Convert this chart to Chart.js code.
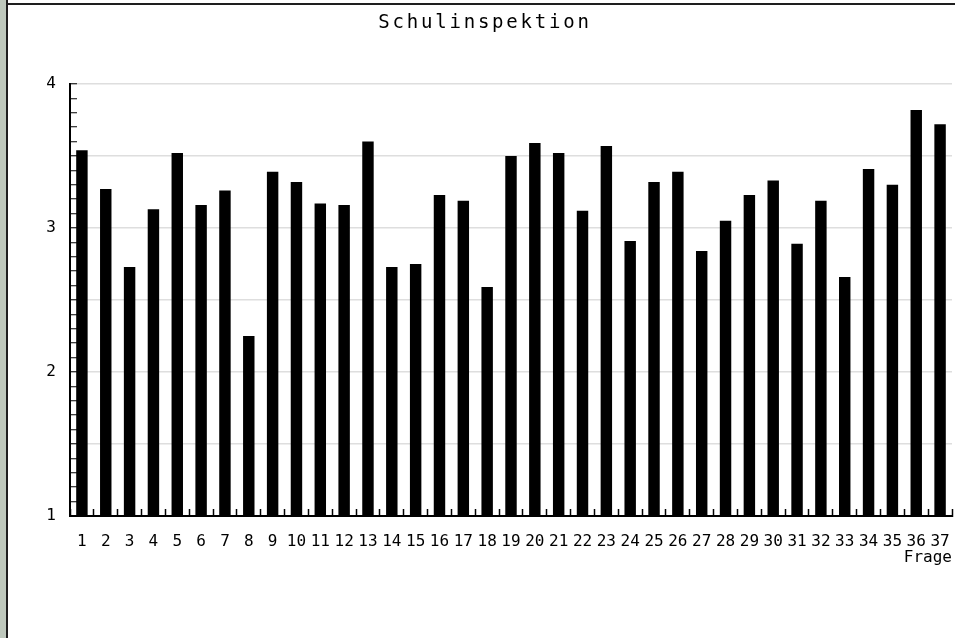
<!DOCTYPE html>
<html>
<head>
<meta charset="utf-8">
<title>Schulinspektion</title>
<script src="https://cdn.jsdelivr.net/npm/chart.js"></script>
<style>
    html, body { margin: 0; padding: 0; background: #fff; }
    #rand { position: absolute; left: 0; top: 0; width: 6px; height: 638px; background: #bec8bc; border-right: 2px solid #1e1e1e; }
    #linieOben { position: absolute; left: 6px; top: 3px; width: 949px; height: 2px; background: #1e1e1e; }
    #box { position: absolute; left: 0; top: 0; width: 955px; height: 638px; }
</style>
</head>
<body>
<div id="rand"></div>
<div id="linieOben"></div>
<div id="box"><canvas id="grafico"></canvas></div>
<script>
const titel = "Schulinspektion";
const achseX = "Frage";

const fragen = ["1", "2", "3", "4", "5", "6", "7", "8", "9", "10",
    "11", "12", "13", "14", "15", "16", "17", "18", "19", "20",
    "21", "22", "23", "24", "25", "26", "27", "28", "29", "30",
    "31", "32", "33", "34", "35", "36", "37"];

const werte = [3.54, 3.27, 2.73, 3.13, 3.52, 3.16, 3.26, 2.25, 3.39, 3.32,
    3.17, 3.16, 3.60, 2.73, 2.75, 3.23, 3.19, 2.59, 3.50, 3.59,
    3.52, 3.12, 3.57, 2.91, 3.32, 3.39, 2.84, 3.05, 3.23, 3.33,
    2.89, 3.19, 2.66, 3.41, 3.30, 3.82, 3.72];

const yMin = 1;
const yMax = 4;
const yBeschriftung = [1, 2, 3, 4];

const schrift = "'DejaVu Sans Mono', 'Liberation Mono', monospace";

// titel mit etwas sperrung, wie im original
const titelPlugin = {
    id: 'titelPlugin',
    afterDraw(chart) {
        const ctx = chart.ctx;
        ctx.save();
        ctx.font = "19px " + schrift;
        ctx.letterSpacing = "2.8px";
        ctx.fillStyle = "#000";
        ctx.textAlign = "center";
        ctx.textBaseline = "alphabetic";
        ctx.fillText(titel, 485, 28);
        ctx.restore();
    }
};

const grafico = document.getElementById("grafico");

new Chart(grafico, {
    type: 'bar',
    data: {
        labels: fragen,
        datasets: [{
            label: titel,
            data: werte,
            backgroundColor: "#000",
            borderWidth: 0,
            categoryPercentage: 1,
            barPercentage: 0.48
        }]
    },
    options: {
        responsive: true,
        maintainAspectRatio: false,
        animation: false,
        layout: {
            padding: { top: 84, left: 0, right: 3, bottom: 62 }
        },
        plugins: {
            legend: { display: false },
            tooltip: { enabled: false },
            title: { display: false }
        },
        scales: {
            x: {
                grid: {
                    display: true,
                    offset: true,
                    drawOnChartArea: false,
                    drawTicks: true,
                    tickLength: -7,
                    tickColor: "#000",
                    tickWidth: 1.5
                },
                border: { display: true, color: "#000", width: 2 },
                ticks: {
                    color: "#000",
                    font: { family: schrift, size: 16 },
                    padding: 23,
                    autoSkip: false,
                    maxRotation: 0
                },
                title: {
                    display: true,
                    text: achseX,
                    align: 'end',
                    color: "#000",
                    font: { family: schrift, size: 16 },
                    padding: { top: 0, bottom: 9 }
                },
                afterFit(scale) {
                    scale.height = 60;
                    scale.paddingLeft = 0;
                    scale.paddingRight = 0;
                }
            },
            y: {
                min: yMin,
                max: yMax,
                grid: {
                    color: (c) => (c.tick && Math.round(c.tick.value * 10) % 5 === 0) ? "#dedede" : "rgba(0,0,0,0)",
                    lineWidth: 1.5,
                    drawTicks: true,
                    tickLength: -7,
                    tickColor: "#000",
                    tickWidth: 1
                },
                border: { display: true, color: "#000", width: 2 },
                ticks: {
                    stepSize: 0.1,
                    autoSkip: false,
                    padding: 21,
                    color: "#000",
                    font: { family: schrift, size: 16 },
                    callback: function (v) {
                        let r = Math.round(v * 10) / 10;
                        return yBeschriftung.includes(r) ? String(r) : '';
                    }
                },
                afterFit(scale) {
                    scale.width = 70;
                    scale.paddingTop = 0;
                    scale.paddingBottom = 0;
                }
            }
        }
    },
    plugins: [titelPlugin]
});
</script>
</body>
</html>
